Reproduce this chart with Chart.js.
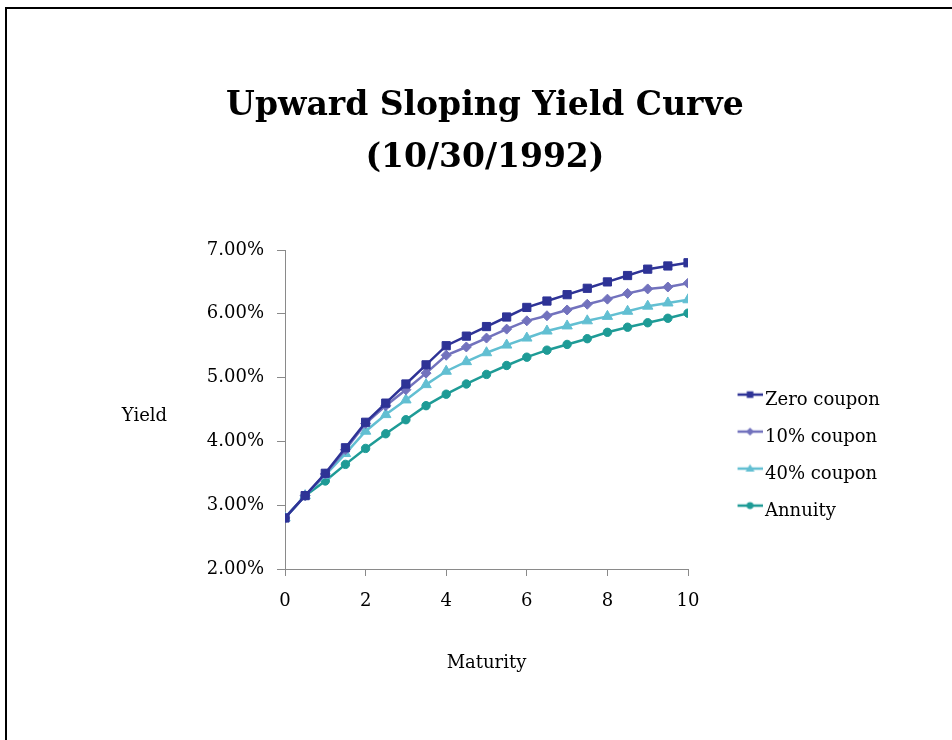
<!DOCTYPE html>
<html><head><meta charset="utf-8">
<script src="https://cdn.jsdelivr.net/npm/chart.js@4.4.0/dist/chart.umd.min.js"></script>
<style>
html,body{margin:0;padding:0;background:#fff;overflow:hidden;}
#wrap{position:relative;width:952px;height:740px;overflow:hidden;}
#frame{position:absolute;left:5px;top:7px;width:1200px;height:1000px;border-top:2px solid #000;border-left:2px solid #000;}
canvas{position:absolute;left:0;top:0;}
</style></head><body>
<div id="wrap"><div id="frame"></div><canvas id="c" width="952" height="740"></canvas></div>
<script>
// ---- data ----
const titleLines = ['Upward Sloping Yield Curve', '(10/30/1992)'];
const xAxisTitle = 'Maturity';
const yAxisTitle = 'Yield';
const seriesNames = ['Zero coupon', '10% coupon', '40% coupon', 'Annuity'];
const maturity = [0,0.5,1,1.5,2,2.5,3,3.5,4,4.5,5,5.5,6,6.5,7,7.5,8,8.5,9,9.5,10];
const zeroCoupon = [2.80,3.15,3.50,3.90,4.30,4.60,4.90,5.20,5.50,5.65,5.80,5.95,6.10,6.20,6.30,6.40,6.50,6.60,6.70,6.75,6.80];
const coupon10 = [2.80,3.15,3.49,3.87,4.28,4.56,4.81,5.07,5.35,5.48,5.62,5.76,5.89,5.97,6.06,6.15,6.23,6.32,6.39,6.42,6.48];
const coupon40 = [2.80,3.15,3.47,3.81,4.16,4.42,4.65,4.89,5.10,5.25,5.39,5.51,5.62,5.73,5.81,5.89,5.96,6.04,6.12,6.17,6.22];
const annuity = [2.80,3.15,3.38,3.64,3.89,4.12,4.34,4.56,4.74,4.90,5.05,5.19,5.32,5.43,5.52,5.61,5.71,5.79,5.86,5.93,6.01];
const yTicks = [2, 3, 4, 5, 6, 7];
const xTicks = [0, 2, 4, 6, 8, 10];

// ---- styles ----
const FONT = "'DejaVu Serif', serif";
const colors = ['#2e3396', '#7272bd', '#62bfd2', '#1e9b96'];
const markers = ['rect', 'rectRot', 'triangle', 'circle'];
const radii = [5.8, 5, 6, 4.2];
const seriesValues = [zeroCoupon, coupon10, coupon40, annuity];

function makeIcon(color, style) {
  const c = document.createElement('canvas');
  c.width = 62; c.height = 30;
  const g = c.getContext('2d');
  g.strokeStyle = color; g.lineWidth = 2.5;
  g.beginPath(); g.moveTo(37, 9); g.lineTo(62, 9); g.stroke();
  g.fillStyle = color;
  const cx = 49.5, cy = 9;
  g.beginPath();
  if (style === 'rect') g.rect(cx - 3.3, cy - 3.3, 6.6, 6.6);
  else if (style === 'rectRot') { g.moveTo(cx, cy - 4); g.lineTo(cx + 4, cy); g.lineTo(cx, cy + 4); g.lineTo(cx - 4, cy); g.closePath(); }
  else if (style === 'triangle') { g.moveTo(cx, cy - 4.5); g.lineTo(cx + 4.5, cy + 3); g.lineTo(cx - 4.5, cy + 3); g.closePath(); }
  else g.arc(cx, cy, 3.4, 0, Math.PI * 2);
  g.fill();
  return c;
}
const legendIcons = colors.map((c, i) => makeIcon(c, markers[i]));

const datasets = seriesNames.map((name, i) => ({
  label: name,
  data: maturity.map((m, j) => ({x: m, y: seriesValues[i][j]})),
  borderColor: colors[i],
  backgroundColor: colors[i],
  borderWidth: 2.5,
  pointStyle: markers[i],
  pointRadius: radii[i],
  pointBorderWidth: 1,
  pointBackgroundColor: colors[i],
  pointBorderColor: colors[i],
  tension: 0,
  fill: false
}));

const yieldLabel = {
  id: 'yieldLabel',
  afterDraw(chart) {
    const {ctx, chartArea} = chart;
    ctx.save();
    ctx.font = "18px " + FONT;
    ctx.fillStyle = '#000';
    ctx.textAlign = 'center';
    ctx.textBaseline = 'middle';
    ctx.fillText(yAxisTitle, chartArea.left - 140.5, (chartArea.top + chartArea.bottom) / 2 + 7);
    ctx.restore();
  }
};

Chart.defaults.font.family = FONT;
Chart.defaults.color = '#000';

const chart = new Chart(document.getElementById('c'), {
  type: 'line',
  data: {datasets},
  plugins: [yieldLabel],
  options: {
    responsive: false,
    animation: false,
    devicePixelRatio: 1,
    layout: {padding: {left: 80, right: 62.2, top: 0, bottom: 66.2}},
    plugins: {
      tooltip: {enabled: false},
      title: {
        display: true, text: titleLines, fullSize: true, color: '#000',
        font: {family: FONT, size: 33, weight: 'bold', lineHeight: 1.585},
        padding: {top: 80, bottom: 65.4}
      },
      legend: {
        position: 'right', align: 'center',
        title: {display: true, text: ' ', font: {size: 10}, padding: {top: 226.4, bottom: 0}},
        labels: {
          font: {family: FONT, size: 18}, color: '#000',
          usePointStyle: true, pointStyleWidth: 49, padding: 19,
          generateLabels(ch) {
            const items = Chart.defaults.plugins.legend.labels.generateLabels(ch);
            items.forEach((it, i) => { it.pointStyle = legendIcons[i]; });
            return items;
          }
        }
      }
    },
    scales: {
      x: {
        type: 'linear', position: 'bottom', min: 0, max: 10,
        afterBuildTicks(s) { s.ticks = xTicks.map(v => ({value: v})); },
        afterFit(s) { s.height = 104.8; },
        ticks: {font: {family: FONT, size: 18}, color: '#000', padding: 14.5, maxRotation: 0},
        grid: {drawOnChartArea: false, drawTicks: true, tickLength: 7, color: '#8a8a8a', tickColor: '#8a8a8a'},
        border: {color: '#8a8a8a', width: 1},
        title: {display: true, text: xAxisTitle, color: '#000', font: {family: FONT, size: 18}, padding: {top: 0, bottom: 0}}
      },
      y: {
        type: 'linear', min: 2, max: 7,
        afterBuildTicks(s) { s.ticks = yTicks.map(v => ({value: v})); },
        afterFit(s) { s.width = 205; },
        ticks: {font: {family: FONT, size: 18}, color: '#000', padding: 13, callback: v => v.toFixed(2) + '%'},
        grid: {drawOnChartArea: false, drawTicks: true, tickLength: 8, color: '#8a8a8a', tickColor: '#8a8a8a'},
        border: {color: '#8a8a8a', width: 1}
      }
    }
  }
});
</script>
</body></html>
